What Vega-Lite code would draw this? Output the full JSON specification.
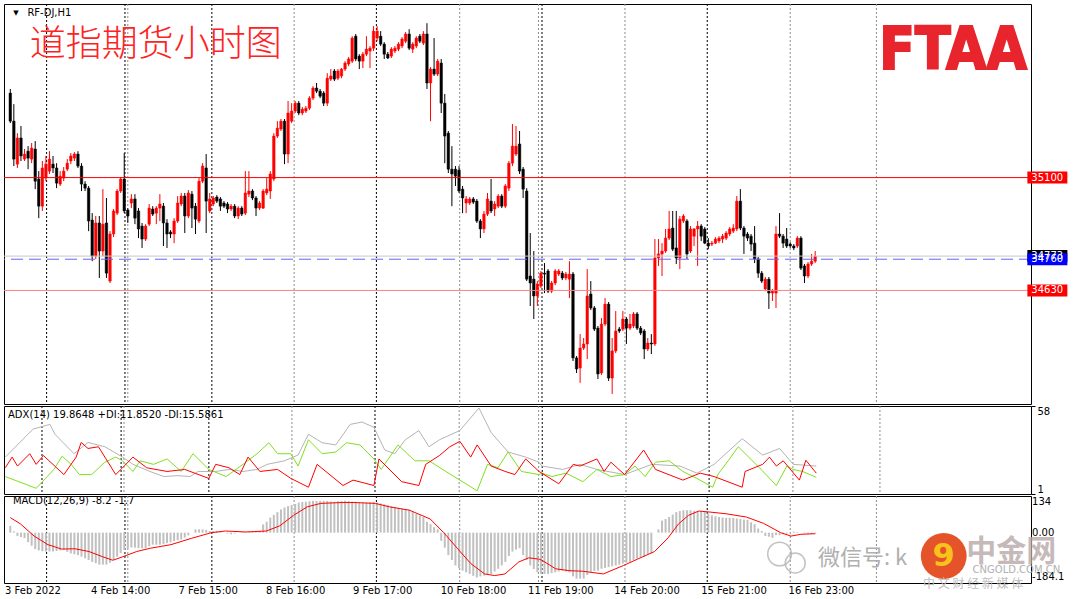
{
"$schema": "https://vega.github.io/schema/vega-lite/v6.json",
"background": "white",
"padding": {"left": 2, "top": 3, "right": 0, "bottom": 0},
"autosize": {"type": "pad"},
"bounds": "flush",
"spacing": 2,
"config": {
  "view": {"stroke": "#000000", "strokeWidth": 1},
  "axis": {"labelFont": "DejaVu Sans", "labelFontSize": 10, "labelColor": "#000000", "tickColor": "#000000", "domain": false, "grid": false},
  "text": {"font": "DejaVu Sans", "fontSize": 10}
},
"resolve": {"scale": {"x": "independent", "y": "independent"}},
"datasets": {
"vlines": [
 {"i":33.0,"k":"grid"},{"i":79.7,"k":"grid"},{"i":126.2,"k":"grid"},{"i":148.3,"k":"grid"},{"i":172.6,"k":"grid"},{"i":219.0,"k":"grid"},{"i":243.2,"k":"grid"},
 {"i":10.2,"k":"sep"},{"i":32.2,"k":"sep"},{"i":56.6,"k":"sep"},{"i":102.8,"k":"sep"},{"i":149.3,"k":"sep"},{"i":195.7,"k":"sep"}
],
"levels": [
 {"p":34773,"k":"bid"},{"p":35100,"k":"r1"},{"p":34760,"k":"blue"},{"p":34630,"k":"r2"}
],
"timelabels": [
 {"i":-0.08,"t":"3 Feb 2022"},{"i":23.83,"t":"4 Feb 14:00"},{"i":48.16,"t":"7 Feb 15:00"},{"i":72.5,"t":"8 Feb 16:00"},{"i":96.7,"t":"9 Feb 17:00"},
 {"i":121.05,"t":"10 Feb 18:00"},{"i":145.35,"t":"11 Feb 19:00"},{"i":169.3,"t":"14 Feb 20:00"},{"i":193.5,"t":"15 Feb 21:00"},{"i":217.8,"t":"16 Feb 23:00"}
],
"candles": [
{"i":0,"o":35452,"h":35469,"l":35327,"c":35335},
{"i":1,"o":35335,"h":35406,"l":35148,"c":35177},
{"i":2,"o":35156,"h":35285,"l":35140,"c":35265},
{"i":3,"o":35265,"h":35315,"l":35169,"c":35190},
{"i":4,"o":35177,"h":35219,"l":35169,"c":35198},
{"i":5,"o":35210,"h":35231,"l":35135,"c":35181},
{"i":6,"o":35177,"h":35244,"l":35160,"c":35223},
{"i":7,"o":35219,"h":35252,"l":35052,"c":35085},
{"i":8,"o":35094,"h":35127,"l":34931,"c":34981},
{"i":9,"o":34981,"h":35169,"l":34961,"c":35140},
{"i":10,"o":35098,"h":35190,"l":35085,"c":35156},
{"i":11,"o":35127,"h":35210,"l":35115,"c":35177},
{"i":12,"o":35156,"h":35190,"l":35119,"c":35140},
{"i":13,"o":35140,"h":35160,"l":35056,"c":35077},
{"i":14,"o":35073,"h":35127,"l":35065,"c":35106},
{"i":15,"o":35098,"h":35144,"l":35085,"c":35127},
{"i":16,"o":35135,"h":35177,"l":35127,"c":35160},
{"i":17,"o":35169,"h":35202,"l":35156,"c":35190},
{"i":18,"o":35181,"h":35206,"l":35169,"c":35198},
{"i":19,"o":35198,"h":35210,"l":35140,"c":35148},
{"i":20,"o":35148,"h":35160,"l":35044,"c":35073},
{"i":21,"o":35073,"h":35085,"l":35044,"c":35056},
{"i":22,"o":35056,"h":35065,"l":34877,"c":34919},
{"i":23,"o":34923,"h":34952,"l":34752,"c":34773},
{"i":24,"o":34773,"h":34940,"l":34761,"c":34911},
{"i":25,"o":34911,"h":34940,"l":34682,"c":34794},
{"i":26,"o":34794,"h":35052,"l":34773,"c":34906},
{"i":27,"o":34911,"h":35015,"l":34682,"c":34702},
{"i":28,"o":34669,"h":34877,"l":34661,"c":34865},
{"i":29,"o":34865,"h":34969,"l":34852,"c":34961},
{"i":30,"o":34952,"h":35052,"l":34944,"c":35044},
{"i":31,"o":35044,"h":35102,"l":35036,"c":35094},
{"i":32,"o":35094,"h":35202,"l":34952,"c":34961},
{"i":33,"o":34965,"h":34973,"l":34911,"c":34940},
{"i":34,"o":34994,"h":35031,"l":34973,"c":35011},
{"i":35,"o":35011,"h":35031,"l":34906,"c":34931},
{"i":36,"o":34961,"h":34973,"l":34848,"c":34886},
{"i":37,"o":34898,"h":34911,"l":34807,"c":34844},
{"i":38,"o":34844,"h":34906,"l":34836,"c":34898},
{"i":39,"o":34906,"h":34990,"l":34898,"c":34973},
{"i":40,"o":34969,"h":34981,"l":34940,"c":34948},
{"i":41,"o":34952,"h":34981,"l":34906,"c":34973},
{"i":42,"o":34973,"h":35031,"l":34919,"c":34990},
{"i":43,"o":34981,"h":34994,"l":34815,"c":34911},
{"i":44,"o":34911,"h":34927,"l":34807,"c":34865},
{"i":45,"o":34873,"h":34881,"l":34848,"c":34865},
{"i":46,"o":34865,"h":34931,"l":34827,"c":34919},
{"i":47,"o":34919,"h":35023,"l":34911,"c":34994},
{"i":48,"o":34990,"h":35036,"l":34981,"c":35023},
{"i":49,"o":35023,"h":35036,"l":34869,"c":34940},
{"i":50,"o":34940,"h":35048,"l":34931,"c":35036},
{"i":51,"o":35031,"h":35044,"l":34890,"c":34973},
{"i":52,"o":34981,"h":34994,"l":34865,"c":34927},
{"i":53,"o":34919,"h":35098,"l":34911,"c":35085},
{"i":54,"o":35085,"h":35160,"l":35077,"c":35148},
{"i":55,"o":35140,"h":35198,"l":34869,"c":35002},
{"i":56,"o":34961,"h":35036,"l":34952,"c":35011},
{"i":57,"o":34990,"h":35023,"l":34981,"c":35015},
{"i":58,"o":35019,"h":35027,"l":34994,"c":35002},
{"i":59,"o":35011,"h":35019,"l":34961,"c":34981},
{"i":60,"o":34994,"h":35002,"l":34973,"c":34981},
{"i":61,"o":34990,"h":34998,"l":34952,"c":34969},
{"i":62,"o":34969,"h":34990,"l":34961,"c":34981},
{"i":63,"o":34981,"h":34990,"l":34931,"c":34940},
{"i":64,"o":34940,"h":34981,"l":34927,"c":34973},
{"i":65,"o":34973,"h":34981,"l":34940,"c":34948},
{"i":66,"o":34952,"h":35127,"l":34944,"c":35036},
{"i":67,"o":35031,"h":35127,"l":35019,"c":35044},
{"i":68,"o":35044,"h":35052,"l":35006,"c":35015},
{"i":69,"o":35015,"h":35023,"l":34940,"c":34973},
{"i":70,"o":34973,"h":35002,"l":34965,"c":34994},
{"i":71,"o":34973,"h":35052,"l":34969,"c":35044},
{"i":72,"o":35036,"h":35098,"l":35027,"c":35052},
{"i":73,"o":35044,"h":35127,"l":35011,"c":35115},
{"i":74,"o":35094,"h":35285,"l":35085,"c":35273},
{"i":75,"o":35273,"h":35335,"l":35265,"c":35306},
{"i":76,"o":35302,"h":35344,"l":35294,"c":35335},
{"i":77,"o":35335,"h":35344,"l":35156,"c":35198},
{"i":78,"o":35198,"h":35419,"l":35160,"c":35369},
{"i":79,"o":35335,"h":35410,"l":35327,"c":35377},
{"i":80,"o":35377,"h":35419,"l":35369,"c":35410},
{"i":81,"o":35410,"h":35419,"l":35360,"c":35369},
{"i":82,"o":35369,"h":35394,"l":35360,"c":35385},
{"i":83,"o":35377,"h":35398,"l":35369,"c":35389},
{"i":84,"o":35389,"h":35439,"l":35381,"c":35431},
{"i":85,"o":35431,"h":35481,"l":35423,"c":35473},
{"i":86,"o":35473,"h":35494,"l":35452,"c":35460},
{"i":87,"o":35460,"h":35469,"l":35431,"c":35439},
{"i":88,"o":35452,"h":35460,"l":35398,"c":35410},
{"i":89,"o":35410,"h":35535,"l":35398,"c":35514},
{"i":90,"o":35510,"h":35552,"l":35502,"c":35523},
{"i":91,"o":35544,"h":35552,"l":35502,"c":35510},
{"i":92,"o":35514,"h":35552,"l":35506,"c":35544},
{"i":93,"o":35523,"h":35556,"l":35514,"c":35552},
{"i":94,"o":35552,"h":35585,"l":35544,"c":35577},
{"i":95,"o":35573,"h":35602,"l":35564,"c":35594},
{"i":96,"o":35585,"h":35689,"l":35577,"c":35681},
{"i":97,"o":35689,"h":35698,"l":35585,"c":35594},
{"i":98,"o":35606,"h":35614,"l":35552,"c":35585},
{"i":99,"o":35585,"h":35623,"l":35556,"c":35614},
{"i":100,"o":35614,"h":35689,"l":35606,"c":35635},
{"i":101,"o":35627,"h":35648,"l":35556,"c":35639},
{"i":102,"o":35639,"h":35731,"l":35627,"c":35710},
{"i":103,"o":35681,"h":35731,"l":35668,"c":35710},
{"i":104,"o":35689,"h":35710,"l":35648,"c":35656},
{"i":105,"o":35656,"h":35664,"l":35594,"c":35614},
{"i":106,"o":35614,"h":35623,"l":35594,"c":35598},
{"i":107,"o":35606,"h":35643,"l":35598,"c":35635},
{"i":108,"o":35627,"h":35648,"l":35619,"c":35639},
{"i":109,"o":35635,"h":35664,"l":35627,"c":35656},
{"i":110,"o":35648,"h":35685,"l":35639,"c":35677},
{"i":111,"o":35668,"h":35706,"l":35660,"c":35698},
{"i":112,"o":35698,"h":35718,"l":35631,"c":35639},
{"i":113,"o":35635,"h":35664,"l":35619,"c":35656},
{"i":114,"o":35648,"h":35689,"l":35639,"c":35681},
{"i":115,"o":35689,"h":35698,"l":35660,"c":35668},
{"i":116,"o":35660,"h":35710,"l":35652,"c":35698},
{"i":117,"o":35698,"h":35743,"l":35469,"c":35494},
{"i":118,"o":35494,"h":35560,"l":35335,"c":35552},
{"i":119,"o":35552,"h":35681,"l":35523,"c":35531},
{"i":120,"o":35531,"h":35594,"l":35523,"c":35585},
{"i":121,"o":35577,"h":35594,"l":35369,"c":35410},
{"i":122,"o":35410,"h":35448,"l":35160,"c":35273},
{"i":123,"o":35285,"h":35294,"l":35119,"c":35135},
{"i":124,"o":35135,"h":35231,"l":34981,"c":35115},
{"i":125,"o":35135,"h":35148,"l":35065,"c":35106},
{"i":126,"o":35131,"h":35148,"l":35036,"c":35044},
{"i":127,"o":35052,"h":35065,"l":34952,"c":35015},
{"i":128,"o":34994,"h":35023,"l":34952,"c":35011},
{"i":129,"o":34994,"h":35019,"l":34986,"c":35011},
{"i":130,"o":35011,"h":35019,"l":34990,"c":34998},
{"i":131,"o":35002,"h":35011,"l":34911,"c":34919},
{"i":132,"o":34919,"h":34927,"l":34848,"c":34886},
{"i":133,"o":34886,"h":34961,"l":34869,"c":34948},
{"i":134,"o":34948,"h":35036,"l":34940,"c":35011},
{"i":135,"o":35002,"h":35094,"l":34952,"c":34961},
{"i":136,"o":34969,"h":35002,"l":34940,"c":34990},
{"i":137,"o":34981,"h":35031,"l":34973,"c":35023},
{"i":138,"o":35023,"h":35031,"l":34973,"c":34981},
{"i":139,"o":34981,"h":35073,"l":34973,"c":35065},
{"i":140,"o":35056,"h":35169,"l":35044,"c":35160},
{"i":141,"o":35160,"h":35323,"l":35148,"c":35231},
{"i":142,"o":35198,"h":35315,"l":35190,"c":35231},
{"i":143,"o":35240,"h":35294,"l":35115,"c":35127},
{"i":144,"o":35135,"h":35144,"l":35015,"c":35052},
{"i":145,"o":35044,"h":35056,"l":34669,"c":34677},
{"i":146,"o":34690,"h":34869,"l":34565,"c":34661},
{"i":147,"o":34677,"h":34794,"l":34511,"c":34607},
{"i":148,"o":34607,"h":34669,"l":34565,"c":34657},
{"i":149,"o":34648,"h":34711,"l":34640,"c":34702},
{"i":150,"o":34702,"h":34744,"l":34619,"c":34698},
{"i":151,"o":34711,"h":34719,"l":34619,"c":34627},
{"i":152,"o":34627,"h":34669,"l":34619,"c":34661},
{"i":153,"o":34661,"h":34719,"l":34652,"c":34711},
{"i":154,"o":34698,"h":34719,"l":34690,"c":34711},
{"i":155,"o":34702,"h":34711,"l":34673,"c":34682},
{"i":156,"o":34682,"h":34707,"l":34673,"c":34698},
{"i":157,"o":34677,"h":34752,"l":34598,"c":34698},
{"i":158,"o":34698,"h":34707,"l":34336,"c":34349},
{"i":159,"o":34349,"h":34357,"l":34286,"c":34303},
{"i":160,"o":34307,"h":34448,"l":34245,"c":34390},
{"i":161,"o":34390,"h":34432,"l":34382,"c":34407},
{"i":162,"o":34407,"h":34719,"l":34344,"c":34607},
{"i":163,"o":34615,"h":34669,"l":34548,"c":34557},
{"i":164,"o":34557,"h":34565,"l":34461,"c":34469},
{"i":165,"o":34473,"h":34482,"l":34261,"c":34282},
{"i":166,"o":34286,"h":34515,"l":34278,"c":34490},
{"i":167,"o":34490,"h":34598,"l":34482,"c":34573},
{"i":168,"o":34573,"h":34582,"l":34253,"c":34265},
{"i":169,"o":34265,"h":34432,"l":34199,"c":34378},
{"i":170,"o":34378,"h":34544,"l":34369,"c":34461},
{"i":171,"o":34469,"h":34478,"l":34453,"c":34461},
{"i":172,"o":34469,"h":34544,"l":34461,"c":34511},
{"i":173,"o":34511,"h":34519,"l":34407,"c":34473},
{"i":174,"o":34473,"h":34532,"l":34465,"c":34490},
{"i":175,"o":34482,"h":34540,"l":34473,"c":34532},
{"i":176,"o":34532,"h":34540,"l":34465,"c":34473},
{"i":177,"o":34473,"h":34482,"l":34444,"c":34453},
{"i":178,"o":34461,"h":34469,"l":34344,"c":34386},
{"i":179,"o":34386,"h":34432,"l":34378,"c":34411},
{"i":180,"o":34411,"h":34448,"l":34365,"c":34407},
{"i":181,"o":34407,"h":34844,"l":34399,"c":34765},
{"i":182,"o":34765,"h":34844,"l":34732,"c":34782},
{"i":183,"o":34782,"h":34827,"l":34690,"c":34794},
{"i":184,"o":34794,"h":34886,"l":34786,"c":34848},
{"i":185,"o":34848,"h":34961,"l":34840,"c":34886},
{"i":186,"o":34890,"h":34961,"l":34794,"c":34802},
{"i":187,"o":34807,"h":34961,"l":34740,"c":34765},
{"i":188,"o":34765,"h":34940,"l":34719,"c":34927},
{"i":189,"o":34919,"h":34948,"l":34911,"c":34940},
{"i":190,"o":34919,"h":34927,"l":34761,"c":34782},
{"i":191,"o":34794,"h":34898,"l":34786,"c":34886},
{"i":192,"o":34856,"h":34890,"l":34815,"c":34886},
{"i":193,"o":34886,"h":34919,"l":34732,"c":34898},
{"i":194,"o":34898,"h":34906,"l":34836,"c":34856},
{"i":195,"o":34886,"h":34894,"l":34823,"c":34827},
{"i":196,"o":34827,"h":34848,"l":34802,"c":34815},
{"i":197,"o":34823,"h":34836,"l":34815,"c":34827},
{"i":198,"o":34827,"h":34852,"l":34823,"c":34844},
{"i":199,"o":34836,"h":34856,"l":34827,"c":34848},
{"i":200,"o":34844,"h":34865,"l":34827,"c":34856},
{"i":201,"o":34848,"h":34877,"l":34840,"c":34869},
{"i":202,"o":34865,"h":34894,"l":34856,"c":34886},
{"i":203,"o":34877,"h":34906,"l":34869,"c":34890},
{"i":204,"o":34886,"h":35023,"l":34877,"c":35002},
{"i":205,"o":35002,"h":35052,"l":34881,"c":34890},
{"i":206,"o":34890,"h":34898,"l":34782,"c":34856},
{"i":207,"o":34865,"h":34873,"l":34836,"c":34848},
{"i":208,"o":34856,"h":34865,"l":34794,"c":34823},
{"i":209,"o":34827,"h":34898,"l":34744,"c":34761},
{"i":210,"o":34761,"h":34769,"l":34682,"c":34702},
{"i":211,"o":34702,"h":34711,"l":34661,"c":34669},
{"i":212,"o":34636,"h":34686,"l":34627,"c":34677},
{"i":213,"o":34677,"h":34686,"l":34553,"c":34619},
{"i":214,"o":34619,"h":34636,"l":34586,"c":34627},
{"i":215,"o":34619,"h":34898,"l":34557,"c":34865},
{"i":216,"o":34865,"h":34952,"l":34848,"c":34856},
{"i":217,"o":34856,"h":34865,"l":34807,"c":34827},
{"i":218,"o":34844,"h":34890,"l":34807,"c":34815},
{"i":219,"o":34823,"h":34831,"l":34807,"c":34815},
{"i":220,"o":34815,"h":34823,"l":34798,"c":34807},
{"i":221,"o":34815,"h":34856,"l":34807,"c":34848},
{"i":222,"o":34848,"h":34856,"l":34715,"c":34723},
{"i":223,"o":34732,"h":34740,"l":34661,"c":34690},
{"i":224,"o":34690,"h":34748,"l":34682,"c":34740},
{"i":225,"o":34740,"h":34782,"l":34732,"c":34752},
{"i":226,"o":34752,"h":34794,"l":34744,"c":34773}
],
"adx": [
{"i":0,"s":"a","v":24.9},{"i":7.7,"s":"a","v":43},{"i":12.4,"s":"a","v":46.1},{"i":13.8,"s":"a","v":39.7},{"i":19.1,"s":"a","v":27.1},{"i":23,"s":"a","v":34.4},{"i":27.7,"s":"a","v":31.6},{"i":32.6,"s":"a","v":24.9},{"i":35.5,"s":"a","v":20.2},{"i":40.2,"s":"a","v":15.6},{"i":44.1,"s":"a","v":12.3},{"i":48,"s":"a","v":12.9},{"i":51.4,"s":"a","v":12.3},{"i":53.6,"s":"a","v":15.6},{"i":58.5,"s":"a","v":15.6},{"i":62.2,"s":"a","v":16.9},{"i":66.1,"s":"a","v":15.6},{"i":70,"s":"a","v":16.9},{"i":72.8,"s":"a","v":20.2},{"i":77.6,"s":"a","v":22.5},{"i":81.4,"s":"a","v":26.2},{"i":84.3,"s":"a","v":39.7},{"i":88.1,"s":"a","v":34.2},{"i":91.9,"s":"a","v":32.8},{"i":95.9,"s":"a","v":46.1},{"i":99.2,"s":"a","v":47.6},{"i":102.5,"s":"a","v":44.2},{"i":105.5,"s":"a","v":29.5},{"i":108.3,"s":"a","v":27.1},{"i":111.2,"s":"a","v":36.1},{"i":115,"s":"a","v":42.1},{"i":117.8,"s":"a","v":31.6},{"i":120.7,"s":"a","v":36.1},{"i":126.4,"s":"a","v":42.1},{"i":131.7,"s":"a","v":56.7},{"i":135.1,"s":"a","v":40.8},{"i":139.8,"s":"a","v":28.2},{"i":144.7,"s":"a","v":24.9},{"i":148.4,"s":"a","v":21.6},{"i":149.2,"s":"a","v":19.1},{"i":155,"s":"a","v":16.9},{"i":159.8,"s":"a","v":20.2},{"i":164.5,"s":"a","v":16.9},{"i":172.2,"s":"a","v":13.6},{"i":179.8,"s":"a","v":20.2},{"i":187.6,"s":"a","v":19.1},{"i":192.3,"s":"a","v":14.5},{"i":197.1,"s":"a","v":20.2},{"i":204.9,"s":"a","v":36.8},{"i":210.6,"s":"a","v":26.2},{"i":215.3,"s":"a","v":30.5},{"i":219.1,"s":"a","v":20.2},{"i":225.5,"s":"a","v":19.1},
{"i":0,"s":"p","v":12.3},{"i":8.6,"s":"p","v":4.7},{"i":13.5,"s":"p","v":16.9},{"i":15.8,"s":"p","v":25.5},{"i":18.3,"s":"p","v":20.2},{"i":20.6,"s":"p","v":13.6},{"i":24,"s":"p","v":13.6},{"i":27.7,"s":"p","v":21.6},{"i":30.7,"s":"p","v":24.9},{"i":32.6,"s":"p","v":22.5},{"i":35.5,"s":"p","v":15.6},{"i":37.5,"s":"p","v":22.5},{"i":41.2,"s":"p","v":20.2},{"i":45,"s":"p","v":23.7},{"i":48.9,"s":"p","v":15.6},{"i":52.2,"s":"p","v":27.1},{"i":56.6,"s":"p","v":16.9},{"i":61.4,"s":"p","v":12.3},{"i":66.1,"s":"p","v":20.2},{"i":70,"s":"p","v":27.1},{"i":73.3,"s":"p","v":34.2},{"i":75.7,"s":"p","v":27.1},{"i":79.4,"s":"p","v":27.1},{"i":81.4,"s":"p","v":19.1},{"i":84.3,"s":"p","v":36.1},{"i":88.1,"s":"p","v":27.1},{"i":91.9,"s":"p","v":28.2},{"i":94.9,"s":"p","v":34.2},{"i":98.6,"s":"p","v":32.8},{"i":102.5,"s":"p","v":23.7},{"i":104.5,"s":"p","v":16.9},{"i":109.2,"s":"p","v":32.8},{"i":113.9,"s":"p","v":22.5},{"i":117.8,"s":"p","v":22.5},{"i":122.5,"s":"p","v":15.6},{"i":131.2,"s":"p","v":3.1},{"i":134.1,"s":"p","v":20.2},{"i":137,"s":"p","v":18},{"i":139.8,"s":"p","v":28.2},{"i":143.5,"s":"p","v":15.6},{"i":148.4,"s":"p","v":13.6},{"i":149.2,"s":"p","v":14.5},{"i":152,"s":"p","v":12.3},{"i":155.9,"s":"p","v":14.5},{"i":160.6,"s":"p","v":9},{"i":164.5,"s":"p","v":16.9},{"i":168.4,"s":"p","v":12.3},{"i":172.2,"s":"p","v":13.6},{"i":175.1,"s":"p","v":19.1},{"i":177.9,"s":"p","v":12.3},{"i":180.8,"s":"p","v":21.6},{"i":184.6,"s":"p","v":22.5},{"i":188.4,"s":"p","v":15.6},{"i":192.3,"s":"p","v":11.1},{"i":196.7,"s":"p","v":5.4},{"i":198.1,"s":"p","v":13.6},{"i":201,"s":"p","v":22.5},{"i":203.8,"s":"p","v":31.6},{"i":209.7,"s":"p","v":18},{"i":214.4,"s":"p","v":6.5},{"i":217.3,"s":"p","v":19.1},{"i":219.1,"s":"p","v":16.9},{"i":221.7,"s":"p","v":15.6},{"i":225.5,"s":"p","v":11.8},
{"i":0,"s":"m","v":18},{"i":1.9,"s":"m","v":24.9},{"i":3.4,"s":"m","v":19.1},{"i":6.8,"s":"m","v":27.1},{"i":8.6,"s":"m","v":20.2},{"i":10.6,"s":"m","v":25.9},{"i":16.3,"s":"m","v":13.6},{"i":19.7,"s":"m","v":24.9},{"i":21.1,"s":"m","v":34.4},{"i":23,"s":"m","v":30.5},{"i":25.9,"s":"m","v":31.6},{"i":30.7,"s":"m","v":13.6},{"i":32.6,"s":"m","v":18},{"i":35.5,"s":"m","v":24.9},{"i":39.3,"s":"m","v":18},{"i":45,"s":"m","v":15.6},{"i":49.9,"s":"m","v":16.9},{"i":56.6,"s":"m","v":11.1},{"i":58.5,"s":"m","v":20.2},{"i":62.2,"s":"m","v":18},{"i":65.2,"s":"m","v":13.6},{"i":67.5,"s":"m","v":24.9},{"i":70.8,"s":"m","v":15.6},{"i":75.7,"s":"m","v":16.9},{"i":79.4,"s":"m","v":11.1},{"i":84.3,"s":"m","v":5.4},{"i":86.7,"s":"m","v":20.2},{"i":93.9,"s":"m","v":6.5},{"i":96.7,"s":"m","v":10},{"i":102.5,"s":"m","v":6.5},{"i":103.9,"s":"m","v":23.7},{"i":110.2,"s":"m","v":9},{"i":115,"s":"m","v":6.5},{"i":116.9,"s":"m","v":20.2},{"i":120.7,"s":"m","v":25.9},{"i":123.6,"s":"m","v":31.6},{"i":126.4,"s":"m","v":35.1},{"i":129.4,"s":"m","v":24.9},{"i":131.2,"s":"m","v":32.8},{"i":135.1,"s":"m","v":19.1},{"i":139,"s":"m","v":15.6},{"i":141.7,"s":"m","v":13.6},{"i":144.7,"s":"m","v":23.7},{"i":148.4,"s":"m","v":15.6},{"i":149.2,"s":"m","v":14.5},{"i":153.9,"s":"m","v":7.6},{"i":157.9,"s":"m","v":20.2},{"i":159.8,"s":"m","v":19.1},{"i":164.5,"s":"m","v":23.7},{"i":166.5,"s":"m","v":15.6},{"i":168.4,"s":"m","v":21.6},{"i":172.2,"s":"m","v":13.6},{"i":177.5,"s":"m","v":29.5},{"i":180.8,"s":"m","v":16.9},{"i":188.4,"s":"m","v":10},{"i":193.2,"s":"m","v":14.5},{"i":197.1,"s":"m","v":12.3},{"i":204.9,"s":"m","v":5.4},{"i":205.7,"s":"m","v":15.6},{"i":210.6,"s":"m","v":20.2},{"i":212.5,"s":"m","v":24.9},{"i":214.4,"s":"m","v":19.1},{"i":216.3,"s":"m","v":22.5},{"i":220.8,"s":"m","v":10},{"i":222.6,"s":"m","v":22.9},{"i":225.5,"s":"m","v":14.5}
],
"macd": [
{"i":0,"m":25},{"i":1,"m":5},{"i":2,"m":-12},{"i":3,"m":-16},{"i":4,"m":-20},{"i":5,"m":-35},{"i":6,"m":-48},{"i":7,"m":-60},{"i":8,"m":-65},{"i":9,"m":-68},
{"i":10,"m":-69},{"i":11,"m":-69},{"i":12,"m":-69},{"i":13,"m":-67},{"i":14,"m":-65},{"i":15,"m":-63},{"i":16,"m":-70},{"i":17,"m":-76},{"i":18,"m":-79},{"i":19,"m":-82},
{"i":20,"m":-88},{"i":21,"m":-94},{"i":22,"m":-100},{"i":23,"m":-107},{"i":24,"m":-112},{"i":25,"m":-117},{"i":26,"m":-117},{"i":27,"m":-117},{"i":28,"m":-110},{"i":29,"m":-100},
{"i":30,"m":-88},{"i":31,"m":-75},{"i":32,"m":-63},{"i":33,"m":-58},{"i":34,"m":-54},{"i":35,"m":-55},{"i":36,"m":-57},{"i":37,"m":-57},{"i":38,"m":-57},{"i":39,"m":-50},
{"i":40,"m":-44},{"i":41,"m":-44},{"i":42,"m":-44},{"i":43,"m":-41},{"i":44,"m":-38},{"i":45,"m":-35},{"i":46,"m":-31},{"i":47,"m":-28},{"i":48,"m":-25},{"i":49,"m":-18},
{"i":50,"m":-10},{"i":51,"m":0},{"i":52,"m":12},{"i":53,"m":12},{"i":54,"m":12},{"i":55,"m":10},{"i":56,"m":6},{"i":57,"m":6},{"i":58,"m":6},{"i":59,"m":3},
{"i":60,"m":0},{"i":61,"m":-3},{"i":62,"m":-6},{"i":63,"m":-3},{"i":64,"m":0},{"i":65,"m":2},{"i":66,"m":2},{"i":67,"m":2},{"i":68,"m":3},{"i":69,"m":5},
{"i":70,"m":6},{"i":71,"m":30},{"i":72,"m":40},{"i":73,"m":55},{"i":74,"m":65},{"i":75,"m":75},{"i":76,"m":85},{"i":77,"m":92},{"i":78,"m":97},{"i":79,"m":101},
{"i":80,"m":105},{"i":81,"m":110},{"i":82,"m":112},{"i":83,"m":113},{"i":84,"m":115},{"i":85,"m":116},{"i":86,"m":116},{"i":87,"m":116},{"i":88,"m":116},{"i":89,"m":116},
{"i":90,"m":114},{"i":91,"m":113},{"i":92,"m":115},{"i":93,"m":116},{"i":94,"m":117},{"i":95,"m":116},{"i":96,"m":114},{"i":97,"m":113},{"i":98,"m":110},{"i":99,"m":110},
{"i":100,"m":110},{"i":101,"m":111},{"i":102,"m":113},{"i":103,"m":110},{"i":104,"m":107},{"i":105,"m":104},{"i":106,"m":101},{"i":107,"m":97},{"i":108,"m":94},{"i":109,"m":91},
{"i":110,"m":88},{"i":111,"m":86},{"i":112,"m":84},{"i":113,"m":77},{"i":114,"m":69},{"i":115,"m":63},{"i":116,"m":57},{"i":117,"m":40},{"i":118,"m":31},{"i":119,"m":20},
{"i":120,"m":12},{"i":121,"m":-30},{"i":122,"m":-55},{"i":123,"m":-82},{"i":124,"m":-100},{"i":125,"m":-120},{"i":126,"m":-130},{"i":127,"m":-139},{"i":128,"m":-145},{"i":129,"m":-151},
{"i":130,"m":-158},{"i":131,"m":-164},{"i":132,"m":-160},{"i":133,"m":-157},{"i":134,"m":-154},{"i":135,"m":-151},{"i":136,"m":-142},{"i":137,"m":-132},{"i":138,"m":-120},{"i":139,"m":-107},
{"i":140,"m":-85},{"i":141,"m":-69},{"i":142,"m":-62},{"i":143,"m":-57},{"i":144,"m":-82},{"i":145,"m":-100},{"i":146,"m":-120},{"i":147,"m":-133},{"i":148,"m":-145},{"i":149,"m":-151},
{"i":150,"m":-151},{"i":151,"m":-151},{"i":152,"m":-148},{"i":153,"m":-145},{"i":154,"m":-142},{"i":155,"m":-139},{"i":156,"m":-142},{"i":157,"m":-145},{"i":158,"m":-160},{"i":159,"m":-168},
{"i":160,"m":-168},{"i":161,"m":-168},{"i":162,"m":-155},{"i":163,"m":-145},{"i":164,"m":-140},{"i":165,"m":-139},{"i":166,"m":-132},{"i":167,"m":-129},{"i":168,"m":-126},{"i":169,"m":-123},
{"i":170,"m":-120},{"i":171,"m":-117},{"i":172,"m":-113},{"i":173,"m":-110},{"i":174,"m":-107},{"i":175,"m":-100},{"i":176,"m":-95},{"i":177,"m":-91},{"i":178,"m":-88},{"i":179,"m":-80},
{"i":180,"m":-76},{"i":181,"m":0},{"i":182,"m":12},{"i":183,"m":44},{"i":184,"m":50},{"i":185,"m":57},{"i":186,"m":66},{"i":187,"m":75},{"i":188,"m":79},{"i":189,"m":82},
{"i":190,"m":82},{"i":191,"m":82},{"i":192,"m":80},{"i":193,"m":79},{"i":194,"m":77},{"i":195,"m":76},{"i":196,"m":70},{"i":197,"m":63},{"i":198,"m":60},{"i":199,"m":57},
{"i":200,"m":55},{"i":201,"m":54},{"i":202,"m":54},{"i":203,"m":54},{"i":204,"m":52},{"i":205,"m":50},{"i":206,"m":48},{"i":207,"m":47},{"i":208,"m":38},{"i":209,"m":31},
{"i":210,"m":15},{"i":211,"m":6},{"i":212,"m":-12},{"i":213,"m":-15},{"i":214,"m":-19},{"i":215,"m":-9},{"i":216,"m":-9},{"i":217,"m":-6},{"i":218,"m":-4},{"i":219,"m":0},
{"i":220,"m":4},{"i":221,"m":2},{"i":222,"m":0},{"i":223,"m":-2},{"i":224,"m":-4},{"i":225,"m":-5},{"i":226,"m":-6}
],
"signal": [
{"i":0,"v":55},{"i":2.9,"v":31.5},{"i":6.7,"v":-12.6},{"i":10.6,"v":-44},{"i":14.4,"v":-60},{"i":18.2,"v":-59},{"i":22.1,"v":-69},{"i":25.9,"v":-88},{"i":28.8,"v":-101},{"i":31.6,"v":-88},{"i":35.5,"v":-69},{"i":39.3,"v":-57},{"i":45.1,"v":-44},{"i":50.8,"v":-21},{"i":56.5,"v":0},{"i":60.4,"v":6},{"i":66.1,"v":2.5},{"i":71.9,"v":6},{"i":75.7,"v":25},{"i":79.5,"v":63},{"i":83.4,"v":94.5},{"i":87.2,"v":107},{"i":92.9,"v":110},{"i":96.8,"v":110},{"i":102.5,"v":107},{"i":106.4,"v":94.5},{"i":112.1,"v":82},{"i":117.9,"v":50},{"i":121.7,"v":0},{"i":125.5,"v":-57},{"i":129.3,"v":-113},{"i":133.2,"v":-151},{"i":136,"v":-157},{"i":138.9,"v":-151},{"i":142.8,"v":-107},{"i":145.6,"v":-92},{"i":148.5,"v":-97},{"i":149.3,"v":-101},{"i":153.1,"v":-132},{"i":156.9,"v":-139},{"i":160.7,"v":-141},{"i":166.5,"v":-151},{"i":172.2,"v":-120},{"i":176.1,"v":-97},{"i":180.9,"v":-69},{"i":184.7,"v":-19},{"i":187.6,"v":31.5},{"i":190.4,"v":63},{"i":193.3,"v":79},{"i":196.2,"v":75.6},{"i":201,"v":69},{"i":206.7,"v":57},{"i":211.5,"v":34},{"i":216.3,"v":0},{"i":219.2,"v":-12.6},{"i":222,"v":-6},{"i":225.9,"v":-4}
]
},
"vconcat": [
{
 "width": 1027, "height": 400,
 "layer": [
  {"data": {"name": "vlines"}, "transform": [{"filter": "datum.k == 'grid'"}],
   "mark": {"type": "rule", "color": "#8c8c8c", "strokeDash": [2, 2], "strokeWidth": 1},
   "encoding": {"x": {"field": "i", "type": "quantitative", "scale": {"domain": [-0.36, 285.2], "nice": false, "zero": false}, "axis": null}}},
  {"data": {"name": "vlines"}, "transform": [{"filter": "datum.k == 'sep'"}],
   "mark": {"type": "rule", "color": "#000000", "strokeDash": [2, 2], "strokeWidth": 1},
   "encoding": {"x": {"field": "i", "type": "quantitative", "scale": {"domain": [-0.36, 285.2], "nice": false, "zero": false}, "axis": null}}},
  {"data": {"name": "candles"},
   "mark": {"type": "rule", "strokeWidth": 1},
   "encoding": {
    "x": {"field": "i", "type": "quantitative", "scale": {"domain": [-0.36, 285.2], "nice": false, "zero": false}, "axis": null},
    "y": {"field": "l", "type": "quantitative", "scale": {"domain": [34157, 35823], "nice": false, "zero": false}, "axis": null},
    "y2": {"field": "h"},
    "color": {"condition": {"test": "datum.c >= datum.o", "value": "#ff0000"}, "value": "#000000"}}},
  {"data": {"name": "candles"},
   "mark": {"type": "bar", "width": 2.5, "strokeWidth": 0.5},
   "encoding": {
    "x": {"field": "i", "type": "quantitative", "scale": {"domain": [-0.36, 285.2], "nice": false, "zero": false}, "axis": null},
    "y": {"field": "o", "type": "quantitative", "scale": {"domain": [34157, 35823], "nice": false, "zero": false},
          "axis": {"orient": "right", "values": [35727, 35542, 35352, 35167, 34977, 34792, 34602, 34417, 34232], "tickSize": 4, "labelPadding": 2, "title": null}},
    "y2": {"field": "c"},
    "color": {"condition": {"test": "datum.c >= datum.o", "value": "#ff0000"}, "value": "#000000"},
    "stroke": {"condition": {"test": "datum.c >= datum.o", "value": "#ff0000"}, "value": "#000000"}}},
  {"data": {"name": "levels"},
   "mark": {"type": "rule"},
   "encoding": {
    "y": {"field": "p", "type": "quantitative", "scale": {"domain": [34157, 35823], "nice": false, "zero": false}, "axis": null},
    "stroke": {"field": "k", "type": "nominal", "scale": {"domain": ["bid", "r1", "blue", "r2"], "range": ["#c8c8c8", "#ff0000", "#6464ff", "#ff8080"]}, "legend": null},
    "strokeWidth": {"field": "k", "type": "nominal", "scale": {"domain": ["bid", "r1", "blue", "r2"], "range": [1, 1, 2, 2]}, "legend": null},
    "strokeDash": {"field": "k", "type": "nominal", "scale": {"domain": ["bid", "r1", "blue", "r2"], "range": [[1, 0], [1, 0], [12, 6], [1, 0]]}, "legend": null}}},
  {"data": {"name": "levels"},
   "mark": {"type": "point", "shape": "M-1,-0.3H1V0.3H-1Z", "filled": true, "size": 1600, "opacity": 1, "strokeWidth": 0},
   "encoding": {
    "x": {"datum": 291.2},
    "y": {"field": "p", "type": "quantitative", "scale": {"domain": [34157, 35823], "nice": false, "zero": false}, "axis": null},
    "fill": {"field": "k", "type": "nominal", "scale": {"domain": ["bid", "r1", "blue", "r2"], "range": ["#000000", "#ff0000", "#0000ff", "#ff0000"]}, "legend": null}}},
  {"data": {"name": "levels"},
   "mark": {"type": "text", "align": "left", "baseline": "middle", "color": "#ffffff", "font": "DejaVu Sans", "fontSize": 10},
   "encoding": {
    "x": {"datum": 286.7},
    "y": {"field": "p", "type": "quantitative", "scale": {"domain": [34157, 35823], "nice": false, "zero": false}, "axis": null},
    "text": {"field": "p", "type": "quantitative", "format": "d"}}},
  {"data": {"values": [{}]},
   "mark": {"type": "text", "text": "▼", "align": "center", "baseline": "middle", "fontSize": 7, "color": "#000000"},
   "encoding": {"x": {"datum": 1.6}, "y": {"datum": 35785}}},
  {"data": {"values": [{}]},
   "mark": {"type": "text", "text": "RF-DJ,H1", "align": "left", "baseline": "middle", "fontSize": 10, "color": "#000000"},
   "encoding": {"x": {"datum": 4.8}, "y": {"datum": 35785}}},
  {"data": {"values": [{}]},
   "mark": {"type": "text", "text": "道指期货小时图", "align": "left", "baseline": "middle", "font": "Noto Sans CJK SC", "fontWeight": 300, "fontSize": 36, "color": "#ff2222"},
   "encoding": {"x": {"datum": 5.5}, "y": {"datum": 35652}}},
  {"data": {"values": [{}]},
   "mark": {"type": "text", "text": "FTAA", "align": "left", "baseline": "alphabetic", "font": "'Liberation Sans Narrow', 'DejaVu Sans Condensed', 'Liberation Sans', sans-serif", "fontWeight": "bold", "fontSize": 58, "color": "#e8242c", "stroke": "#e8242c", "strokeWidth": 2},
   "encoding": {"x": {"datum": 244.0}, "y": {"datum": 35552}}}
 ]
},
{
 "width": 1027, "height": 88,
 "layer": [
  {"data": {"name": "vlines"}, "transform": [{"filter": "datum.k == 'grid'"}],
   "mark": {"type": "rule", "color": "#8c8c8c", "strokeDash": [2, 2], "strokeWidth": 1},
   "encoding": {"x": {"field": "i", "type": "quantitative", "scale": {"domain": [-0.36, 285.2], "nice": false, "zero": false}, "axis": null}}},
  {"data": {"name": "vlines"}, "transform": [{"filter": "datum.k == 'sep'"}],
   "mark": {"type": "rule", "color": "#000000", "strokeDash": [2, 2], "strokeWidth": 1},
   "encoding": {"x": {"field": "i", "type": "quantitative", "scale": {"domain": [-0.36, 285.2], "nice": false, "zero": false}, "axis": null}}},
  {"data": {"name": "adx"},
   "mark": {"type": "line", "strokeWidth": 1, "interpolate": "linear"},
   "encoding": {
    "x": {"field": "i", "type": "quantitative", "scale": {"domain": [-0.36, 285.2], "nice": false, "zero": false}, "axis": null},
    "y": {"field": "v", "type": "quantitative", "scale": {"domain": [1, 58], "nice": false, "zero": false},
          "axis": {"orient": "right", "values": [1, 58], "labelFlush": true, "tickSize": 4, "labelPadding": 2, "title": null}},
    "color": {"field": "s", "type": "nominal", "scale": {"domain": ["a", "p", "m"], "range": ["#b4b4b4", "#80e020", "#ff0000"]}, "legend": null},
    "order": {"field": "i", "type": "quantitative"}}},
  {"data": {"values": [{}]},
   "mark": {"type": "text", "text": "ADX(14) 19.8648 +DI:11.8520 -DI:15.5861", "align": "left", "baseline": "middle", "fontSize": 10, "color": "#000000"},
   "encoding": {"x": {"datum": 0.75}, "y": {"datum": 52}}}
 ]
},
{
 "width": 1027, "height": 87,
 "layer": [
  {"data": {"name": "vlines"}, "transform": [{"filter": "datum.k == 'grid'"}],
   "mark": {"type": "rule", "color": "#8c8c8c", "strokeDash": [2, 2], "strokeWidth": 1},
   "encoding": {"x": {"field": "i", "type": "quantitative", "scale": {"domain": [-0.36, 285.2], "nice": false, "zero": false}, "axis": null}}},
  {"data": {"name": "vlines"}, "transform": [{"filter": "datum.k == 'sep'"}],
   "mark": {"type": "rule", "color": "#000000", "strokeDash": [2, 2], "strokeWidth": 1},
   "encoding": {"x": {"field": "i", "type": "quantitative", "scale": {"domain": [-0.36, 285.2], "nice": false, "zero": false}, "axis": null}}},
  {"data": {"name": "macd"},
   "mark": {"type": "bar", "width": 2, "color": "#c0c0c0"},
   "encoding": {
    "x": {"field": "i", "type": "quantitative", "scale": {"domain": [-0.36, 285.2], "nice": false, "zero": false}, "axis": null},
    "y": {"field": "m", "type": "quantitative", "scale": {"domain": [-184.1, 134], "nice": false, "zero": false}, "axis": null},
    "y2": {"datum": 0}}},
  {"data": {"name": "signal"},
   "mark": {"type": "line", "color": "#ff0000", "strokeWidth": 1},
   "encoding": {
    "x": {"field": "i", "type": "quantitative", "scale": {"domain": [-0.36, 285.2], "nice": false, "zero": false},
          "axis": {"orient": "bottom", "values": [-0.08, 23.83, 48.16, 72.5, 96.7, 121.05, 145.35, 169.3, 193.5, 217.8], "labels": false, "tickSize": 4, "title": null}},
    "y": {"field": "v", "type": "quantitative", "scale": {"domain": [-184.1, 134], "nice": false, "zero": false},
          "axis": {"orient": "right", "values": [-184.1, 0, 134], "labels": false, "tickSize": 4, "title": null}}}},
  {"data": {"values": [{}]},
   "mark": {"type": "text", "text": "MACD(12,26,9) -8.2 -1.7", "align": "left", "baseline": "middle", "fontSize": 10, "color": "#000000"},
   "encoding": {"x": {"datum": 0.75}, "y": {"datum": 115.7}}},
  {"data": {"values": [{}]},
   "mark": {"type": "point", "shape": "circle", "size": 560, "filled": false, "stroke": "#b4b4b4", "strokeWidth": 1.5, "opacity": 0.8},
   "encoding": {"x": {"datum": 216}, "y": {"datum": -78}}},
  {"data": {"values": [{}]},
   "mark": {"type": "point", "shape": "circle", "size": 400, "filled": false, "stroke": "#b4b4b4", "strokeWidth": 1.5, "opacity": 0.8},
   "encoding": {"x": {"datum": 220.4}, "y": {"datum": -111}}},
  {"data": {"values": [{}]},
   "mark": {"type": "text", "text": "微信号: k", "align": "left", "baseline": "middle", "font": "Noto Sans CJK SC", "fontSize": 22, "color": "#a8a8a8", "opacity": 0.9},
   "encoding": {"x": {"datum": 226.8}, "y": {"datum": -92.7}}},
  {"data": {"values": [{}]},
   "mark": {"type": "point", "shape": "circle", "size": 2100, "filled": true, "color": "#e34a1e", "opacity": 0.95},
   "encoding": {"x": {"datum": 262.1}, "y": {"datum": -85.4}}},
  {"data": {"values": [{}]},
   "mark": {"type": "text", "text": "9", "align": "center", "baseline": "middle", "font": "DejaVu Sans", "fontWeight": "bold", "fontSize": 32, "color": "#f7c21b"},
   "encoding": {"x": {"datum": 262.1}, "y": {"datum": -85.4}}},
  {"data": {"values": [{"v": 134, "t": "134"}]},
   "mark": {"type": "text", "align": "left", "baseline": "top", "dy": 1, "fontSize": 10, "color": "#000000"},
   "encoding": {"x": {"datum": 286.9}, "y": {"field": "v", "type": "quantitative", "scale": {"domain": [-184.1, 134], "nice": false, "zero": false}, "axis": null}, "text": {"field": "t", "type": "nominal"}}},
  {"data": {"values": [{"v": 0, "t": "0.00"}]},
   "mark": {"type": "text", "align": "left", "baseline": "middle", "fontSize": 10, "color": "#000000"},
   "encoding": {"x": {"datum": 286.9}, "y": {"field": "v", "type": "quantitative", "scale": {"domain": [-184.1, 134], "nice": false, "zero": false}, "axis": null}, "text": {"field": "t", "type": "nominal"}}},
  {"data": {"values": [{"v": -184.1, "t": "-184.1"}]},
   "mark": {"type": "text", "align": "left", "baseline": "bottom", "dy": -1, "fontSize": 10, "color": "#000000"},
   "encoding": {"x": {"datum": 286.9}, "y": {"field": "v", "type": "quantitative", "scale": {"domain": [-184.1, 134], "nice": false, "zero": false}, "axis": null}, "text": {"field": "t", "type": "nominal"}}},
  {"data": {"values": [{}]},
   "mark": {"type": "text", "text": "中金网", "align": "left", "baseline": "middle", "font": "Noto Sans CJK SC", "fontWeight": "bold", "fontSize": 30, "color": "#b8a8a8", "opacity": 0.8},
   "encoding": {"x": {"datum": 268.4}, "y": {"datum": -69}}},
  {"data": {"values": [{}]},
   "mark": {"type": "text", "text": "CNGOLD.COM.CN", "align": "left", "baseline": "middle", "font": "DejaVu Sans", "fontSize": 10, "color": "#b0b0b0"},
   "encoding": {"x": {"datum": 270.2}, "y": {"datum": -136.5}}},
  {"data": {"values": [{}]},
   "mark": {"type": "text", "text": "中  文  财  经  新  媒  体", "align": "left", "baseline": "middle", "font": "Noto Sans CJK SC", "fontSize": 12, "color": "#c0c0c0"},
   "encoding": {"x": {"datum": 256.3}, "y": {"datum": -187.7}}}
 ]
},
{
 "width": 1027, "height": 12,
 "view": {"stroke": null},
 "data": {"name": "timelabels"},
 "mark": {"type": "text", "align": "left", "baseline": "middle", "fontSize": 10, "color": "#000000"},
 "encoding": {
  "x": {"field": "i", "type": "quantitative", "scale": {"domain": [-0.36, 285.2], "nice": false, "zero": false}, "axis": null},
  "text": {"field": "t", "type": "nominal"}
 }
}
]
}
